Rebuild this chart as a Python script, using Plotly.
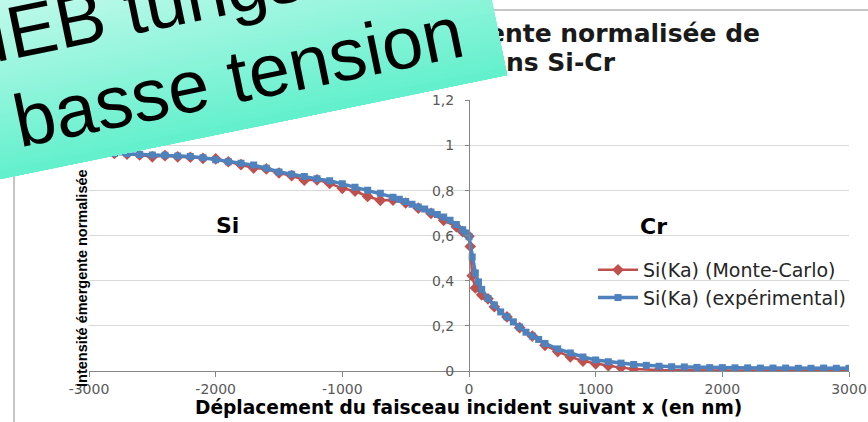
import math
import plotly.graph_objects as go

FIG_W, FIG_H = 868, 422

# Si(Ka) profile across the Si / Cr interface (position in nm, normalised intensity)
x_exp = [-3000, -2900, -2800, -2700, -2600, -2500, -2400, -2300, -2200, -2100,
         -2000, -1900, -1800, -1700, -1600, -1500, -1400, -1300, -1200, -1100,
         -1000, -900, -800, -700, -600, -550, -500, -450, -400, -350,
         -300, -250, -200, -150, -100, -50, -25, 0, 25, 50,
         75, 100, 150, 200, 250, 300, 350, 400, 450, 500,
         550, 600, 700, 800, 900, 1000, 1100, 1200, 1300, 1400,
         1500, 1600, 1700, 1800, 1900, 2000, 2100, 2200, 2300, 2400,
         2500, 2600, 2700, 2800, 2900, 3000]
y_exp = [0.970, 0.968, 0.966, 0.963, 0.960, 0.958, 0.957, 0.953, 0.951, 0.946,
         0.937, 0.928, 0.921, 0.913, 0.899, 0.883, 0.873, 0.862, 0.852, 0.844,
         0.830, 0.815, 0.802, 0.788, 0.771, 0.762, 0.752, 0.740, 0.727, 0.718,
         0.705, 0.694, 0.683, 0.668, 0.650, 0.626, 0.612, 0.595, 0.505, 0.435,
         0.395, 0.362, 0.322, 0.293, 0.262, 0.240, 0.218, 0.195, 0.172, 0.155,
         0.140, 0.122, 0.098, 0.080, 0.062, 0.049, 0.041, 0.035, 0.029, 0.025,
         0.021, 0.019, 0.018, 0.016, 0.015, 0.015, 0.014, 0.014, 0.013, 0.013,
         0.013, 0.012, 0.012, 0.013, 0.012, 0.012]

x_mc = [-3000, -2900, -2800, -2700, -2600, -2500, -2400, -2300, -2200, -2100,
        -2000, -1900, -1800, -1700, -1600, -1500, -1400, -1300, -1200, -1100,
        -1000, -900, -800, -700, -600, -500, -400, -300, -200, -100,
        -50, 0, 10, 25, 50, 100, 150, 200, 300, 400,
        500, 600, 700, 800, 900, 1000, 1100, 1200, 1300, 1500,
        2000, 3000]
y_mc = [0.970, 0.967, 0.965, 0.962, 0.958, 0.950, 0.955, 0.950, 0.948, 0.943,
        0.941, 0.928, 0.915, 0.900, 0.896, 0.878, 0.866, 0.846, 0.848, 0.832,
        0.810, 0.798, 0.774, 0.757, 0.758, 0.745, 0.722, 0.699, 0.668, 0.640,
        0.618, 0.598, 0.552, 0.422, 0.368, 0.338, 0.320, 0.285, 0.240, 0.192,
        0.155, 0.114, 0.086, 0.063, 0.044, 0.032, 0.023, 0.015, 0.009, 0.004,
        0.002, 0.002]

series_names = ["Si(Ka) (Monte-Carlo)", "Si(Ka) (expérimental)"]
series_colors = ["#C0504D", "#4F81BD"]

x_tick_vals = [-3000, -2000, -1000, 0, 1000, 2000, 3000]
x_tick_text = ["-3000", "-2000", "-1000", "0", "1000", "2000", "3000"]
y_tick_vals = [0, 0.2, 0.4, 0.6, 0.8, 1.0, 1.2]
y_tick_text = ["0", "0,2", "0,4", "0,6", "0,8", "1", "1,2"]

title_lines = ["Intensité émergente normalisée de", "Si(Ka) dans Si-Cr"]
banner_lines = ["MEB tungstène", "basse tension"]
x_title = "Déplacement du faisceau incident suivant x (en nm)"
y_title = "Intensité émergente normalisée"
region_labels = ["Si", "Cr"]

# plot-area placement in pixels
PX_LEFT, PX_RIGHT = 89, 849
PX_TOP, PX_BOTTOM = 100.4, 371

GRAY_TXT = "#595959"
AXIS_COL = "#868686"
GRID_COL = "#D9D9D9"


def px(x):
    return x / FIG_W


def py(y):
    return 1 - y / FIG_H


fig = go.Figure()

fig.add_trace(go.Scatter(
    x=x_mc, y=y_mc, name=series_names[0], mode="lines+markers",
    line=dict(color=series_colors[0], width=2.5),
    marker=dict(symbol="diamond", size=9, color=series_colors[0]),
    xaxis="x", yaxis="y"))
fig.add_trace(go.Scatter(
    x=x_exp, y=y_exp, name=series_names[1], mode="lines+markers",
    line=dict(color=series_colors[1], width=3.5),
    marker=dict(symbol="square", size=7, color=series_colors[1]),
    xaxis="x", yaxis="y"))

# chart title, drawn on a full-figure pixel axis pair so the banner can sit over it
fig.add_trace(go.Scatter(
    x=[760, 615], y=[36, 65], text=title_lines, mode="text",
    textposition="middle left", cliponaxis=False, showlegend=False,
    textfont=dict(family="DejaVu Sans", size=25, color="#1a1a1a", weight="bold"),
    hoverinfo="skip", xaxis="x2", yaxis="y2"))

xd0, xd1 = px(PX_LEFT), px(PX_RIGHT)
yd0, yd1 = py(PX_BOTTOM), py(PX_TOP)

fig.update_layout(
    width=FIG_W, height=FIG_H,
    margin=dict(l=0, r=0, t=0, b=0, autoexpand=False),
    paper_bgcolor="white", plot_bgcolor="rgba(0,0,0,0)",
    separators=", ",
    xaxis=dict(domain=[xd0, xd1], range=[-3000, 3000], anchor="y",
               tickvals=x_tick_vals, ticktext=x_tick_text,
               showgrid=False, zeroline=False, showline=True,
               linecolor=AXIS_COL, linewidth=1, automargin=False,
               ticks="outside", ticklen=5, tickcolor=AXIS_COL,
               tickfont=dict(family="DejaVu Sans", size=14, color=GRAY_TXT)),
    yaxis=dict(domain=[yd0, yd1], range=[0, 1.2], anchor="free",
               position=(xd0 + xd1) / 2, automargin=False,
               tickvals=y_tick_vals, ticktext=y_tick_text,
               showgrid=True, gridcolor=GRID_COL, gridwidth=1,
               zeroline=False, showline=True, linecolor=AXIS_COL,
               ticks="outside", ticklen=4, tickcolor=AXIS_COL,
               ticklabelstandoff=8,
               tickfont=dict(family="DejaVu Sans", size=14, color=GRAY_TXT)),
    xaxis2=dict(domain=[0, 1], range=[0, FIG_W], anchor="y2", visible=False,
                fixedrange=True, automargin=False),
    yaxis2=dict(domain=[0, 1], range=[FIG_H, 0], anchor="x2", visible=False,
                fixedrange=True, automargin=False),
    legend=dict(x=px(593), y=py(251), xanchor="left", yanchor="top",
                bgcolor="rgba(0,0,0,0)", itemwidth=40, tracegroupgap=0,
                font=dict(family="DejaVu Sans", size=19, color="#262626")),
    showlegend=True,
)

shapes = []
# chart-area frame
shapes.append(dict(type="rect", xref="x2", yref="y2", x0=14, y0=10, x1=880, y1=440,
                   line=dict(color="#8C8C8C", width=1), fillcolor="rgba(0,0,0,0)",
                   layer="below"))

# tilted banner with a gradient running across its height
ang = math.radians(11.6)
ux, uy = math.cos(ang), -math.sin(ang)
vx, vy = -math.sin(ang), -math.cos(ang)
cx, cy = 507, 75          # lower-right corner of the banner
band_len, band_h = 900, 205
c_low, c_high = (98, 240, 204), (208, 251, 240)


def banner_pt(a, b):
    return cx + a * ux + b * vx, cy + a * uy + b * vy


n_steps = 48
for k in range(n_steps, 0, -1):
    top = band_h * k / n_steps
    t = (top - band_h / (2 * n_steps)) / band_h
    col = tuple(round(c_low[i] + (c_high[i] - c_low[i]) * t) for i in range(3))
    pts = [banner_pt(0, 0), banner_pt(-band_len, 0),
           banner_pt(-band_len, top), banner_pt(0, top)]
    path = "M " + " L ".join(f"{a:.2f},{b:.2f}" for a, b in pts) + " Z"
    shapes.append(dict(type="path", xref="x2", yref="y2", path=path,
                       fillcolor="rgb(%d,%d,%d)" % col, line=dict(width=0),
                       layer="above"))

fig.update_layout(shapes=shapes)

annotations = []
fs = 74
base2 = (-491.8, 26.4)            # start of the second banner line (box frame)
line_gap = 1.2 * fs
mid_off = 0.347 * fs
w2 = 6.17 * fs
w1 = 6.837 * fs
centers = [
    banner_pt(base2[0] - 51 + w1 / 2, base2[1] + line_gap + mid_off),
    banner_pt(base2[0] + w2 / 2, base2[1] + mid_off),
]
for txt, (cxp, cyp) in zip(banner_lines, centers):
    annotations.append(dict(
        x=px(cxp), y=py(cyp), xref="paper", yref="paper", text=txt, showarrow=False,
        textangle=-11.6, xanchor="center", yanchor="middle",
        font=dict(family="Liberation Sans, Arial", size=fs, color="black")))

bold = dict(family="DejaVu Sans", color="black", weight="bold")
annotations.append(dict(x=px(228), y=py(225), xref="paper", yref="paper",
                        text=region_labels[0], showarrow=False,
                        xanchor="center", yanchor="middle", font=dict(bold, size=22)))
annotations.append(dict(x=px(653), y=py(226), xref="paper", yref="paper",
                        text=region_labels[1], showarrow=False,
                        xanchor="center", yanchor="middle", font=dict(bold, size=22)))
annotations.append(dict(x=px(469), y=py(407), xref="paper", yref="paper",
                        text=x_title, showarrow=False,
                        xanchor="center", yanchor="middle", font=dict(bold, size=18.6)))
annotations.append(dict(x=px(82), y=py(278), xref="paper", yref="paper",
                        text=y_title, showarrow=False, textangle=-90,
                        xanchor="center", yanchor="middle",
                        font=dict(family="Liberation Sans, Arial", size=14.5,
                                  color="black", weight="bold")))
fig.update_layout(annotations=annotations)

fig.write_html("out.html")
